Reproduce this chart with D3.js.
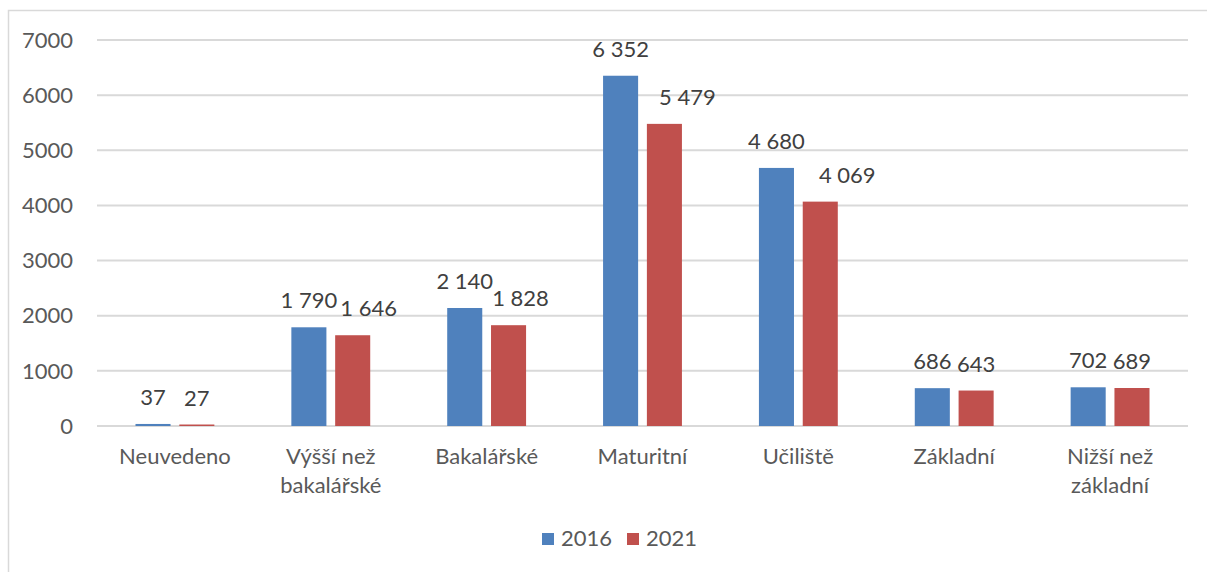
<!DOCTYPE html>
<html><head><meta charset="utf-8">
<script src="https://cdn.jsdelivr.net/npm/d3@7"></script>
<style>html,body{margin:0;padding:0;background:#fff;}svg{display:block;font-family:Lato,"Open Sans",sans-serif;}</style>
</head><body>
<svg id="c" width="1207" height="572"></svg>
<script>
const categories = [["Neuvedeno"],["Výšší než","bakalářské"],["Bakalářské"],["Maturitní"],["Učiliště"],["Základní"],["Nižší než","základní"]];
const seriesNames = ["2016","2021"];
const values2016 = [37,1790,2140,6352,4680,686,702];
const values2021 = [27,1646,1828,5479,4069,643,689];
const yTicks = [0,1000,2000,3000,4000,5000,6000,7000];
const colors = ["#4f81bd","#c0504d"];

(function(){
const svg = d3.select("#c");
const pl = 97, pr = 1188, pt = 40, pb = 426;
const fs = 22;
const labelShift = [[0,0,0,0,0,0,0],[0,16,12,23,27,0,0]];
const fmt = d3.formatLocale({decimal:",",thousands:"\u00a0",grouping:[3],currency:["",""]}).format(",d");

svg.append("rect").attr("x",8.5).attr("y",10.5).attr("width",1220).attr("height",600)
  .attr("fill","none").attr("stroke","#d9d9d9").attr("stroke-width",1.5);

const y = d3.scaleLinear().domain([0,7000]).range([pb,pt]);
const x0 = d3.scaleBand().domain(d3.range(categories.length)).range([pl,pr]).paddingInner(0.494).paddingOuter(0.247);
const x1 = d3.scaleBand().domain([0,1]).range([0,x0.bandwidth()]).paddingInner(0.2);

svg.append("g").selectAll("line").data(yTicks).join("line")
  .attr("x1",pl).attr("x2",pr).attr("y1",d=>y(d)).attr("y2",d=>y(d))
  .attr("stroke","#d9d9d9").attr("stroke-width",2);

svg.append("g").selectAll("text").data(yTicks).join("text")
  .attr("x",73).attr("y",d=>y(d)).attr("dy","0.35em").attr("text-anchor","end")
  .attr("font-size",fs).attr("fill","#595959").text(d=>d);

const series = [values2016, values2021];
series.forEach((vals,s)=>{
  const g = svg.append("g");
  g.selectAll("rect").data(vals).join("rect")
    .attr("x",(d,i)=>x0(i)+x1(s)).attr("width",x1.bandwidth())
    .attr("y",d=>y(d)).attr("height",d=>pb-y(d)).attr("fill",colors[s]);
  g.selectAll("text").data(vals).join("text")
    .attr("x",(d,i)=>x0(i)+x1(s)+x1.bandwidth()/2+labelShift[s][i]).attr("y",d=>y(d)-19)
    .attr("text-anchor","middle").attr("font-size",fs).attr("fill","#404040").text(d=>fmt(d));
});

const cg = svg.append("g");
categories.forEach((lines,i)=>{
  const t = cg.append("text").attr("text-anchor","middle").attr("font-size",fs).attr("fill","#595959");
  lines.forEach((ln,k)=>{
    t.append("tspan").attr("x",x0(i)+x0.bandwidth()/2).attr("y",464+k*29).text(ln);
  });
});

const lg = svg.append("g");
const legendX = [542,627];
seriesNames.forEach((n,s)=>{
  lg.append("rect").attr("x",legendX[s]).attr("y",533).attr("width",12).attr("height",12).attr("fill",colors[s]);
  lg.append("text").attr("x",legendX[s]+19).attr("y",546).attr("font-size",fs).attr("fill","#595959").text(n);
});
})();
</script>
</body></html>
